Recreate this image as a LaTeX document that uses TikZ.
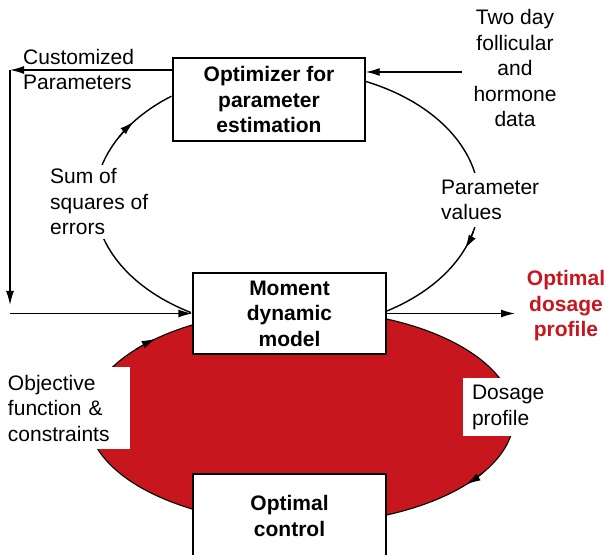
\documentclass[tikz,border=0pt]{standalone}
\usepackage{fontspec}
\setmainfont{Liberation Sans}
\usetikzlibrary{arrows.meta}
\definecolor{dosered}{RGB}{200,22,30}

\begin{document}
\begin{tikzpicture}[x=1pt,y=1pt,
  font=\fontsize{21}{25.5}\selectfont,
  every node/.style={inner sep=0pt},
  box/.style={draw,fill=white,line width=1.4pt,align=center,
    font=\fontsize{21}{25.5}\selectfont\bfseries},
  flow/.style={-{Latex[length=14pt,width=8pt]},line width=1.4pt},
  loopline/.style={line width=1.4pt},
  red loop/.style={x radius=213pt,y radius=107pt},
  est loop/.style={x radius=192pt,y radius=130pt}]
  \useasboundingbox (0,0) rectangle (606,555);

  %red loop
  \coordinate (ctl) at (301,138);
  \draw[fill=dosered,line width=1.1pt] (ctl) ellipse [red loop];
  \draw[flow,line width=1.1pt] ([shift={(141:213pt and 107pt)}]ctl)
    arc [start angle=141,end angle=133,red loop];
  \draw[flow,line width=1.1pt] ([shift={(-31:213pt and 107pt)}]ctl)
    arc [start angle=-31,end angle=-39,red loop];

  %boxes
  \node[box,minimum width=192pt,minimum height=83pt] (opt) at (269,455.5) {Optimizer for\\parameter\\estimation};
  \node[box,minimum width=193pt,minimum height=81pt] (model) at (289.5,241.5) {Moment\\dynamic\\model};
  \node[box,minimum width=193pt,minimum height=84pt] (ctrl) at (289.5,39) {Optimal\\control};

  %estimation loop
  \coordinate (est) at (287,355);
  \draw[loopline] ([shift={(240:192pt and 130pt)}]est)
    arc [start angle=240,end angle=127,est loop];
  \draw[loopline] ([shift={(66:192pt and 130pt)}]est)
    arc [start angle=66,end angle=-59,est loop];
  \draw[flow] ([shift={(151:192pt and 130pt)}]est)
    arc [start angle=151,end angle=143,est loop];
  \draw[flow] ([shift={(-14:192pt and 130pt)}]est)
    arc [start angle=-14,end angle=-22,est loop];

  %labels
  \node[fill=white,inner sep=4pt,align=left,anchor=west] (sse) at (46,353) {Sum of\\squares of\\errors};
  \node[fill=white,inner xsep=3pt,inner ysep=7pt,align=left,anchor=west] (pv) at (438,355) {Parameter\\values};
  \node[align=center] (data) at (515,487) {Two day\\follicular\\and\\hormone\\data};
  \node[align=left,anchor=west] (cust) at (23,485.5) {Customized\\Parameters};
  \node[align=center,text=dosered,font=\fontsize{21}{25.5}\selectfont\bfseries] (optdose) at (566,249) {Optimal\\dosage\\profile};
  \node[fill=white,align=left,text width=114pt,inner xsep=8pt,minimum height=82pt] (obj) at (65,147) {Objective\\function \&\\constraints};
  \node[fill=white,align=left,text width=80pt,inner xsep=9pt,minimum height=58pt] (dose) at (512,147.5) {Dosage\\profile};

  %arrows
  \coordinate (datain) at (462,483);
  \coordinate (corner) at (10,485);
  \coordinate (drop) at (10,250);
  \coordinate (out) at (515,241.5);
  \draw[flow] (datain) -- (datain -| opt.east);
  \draw[flow] (corner -| opt.west) -- (corner);
  \draw[flow] (corner) -- (drop);
  \draw[flow] (drop |- model.west) -- (model.west);
  \draw[flow] (model.east) -- (out);
\end{tikzpicture}
\end{document}
